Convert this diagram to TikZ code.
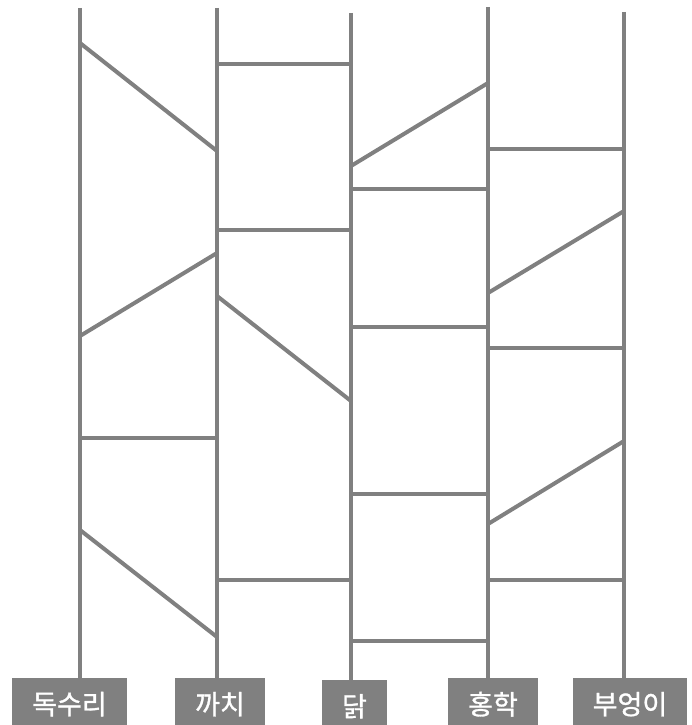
\documentclass[tikz,border=0pt]{standalone}
\usepackage{fontspec}
\usepackage{tikz}
\usetikzlibrary{positioning}
\newfontfamily\krfont[FakeBold=1.2]{Noto Sans CJK KR}
\definecolor{laddergray}{RGB}{128,128,128}

\begin{document}
\begin{tikzpicture}[
    x=1pt, y=-1pt,
    pole/.style={draw=laddergray, line width=4pt},
    rung/.style={draw=laddergray, line width=4pt},
    animal/.style={fill=laddergray, text=white, anchor=north, inner xsep=20pt,
        inner ysep=0pt, minimum height=52pt, font=\krfont\fontsize{27}{27}\selectfont}
]
\useasboundingbox (0,0) rectangle (692,725);

% Labels
\node[animal] (eagle) at (69.5,678) {독수리};
\node[animal] (magpie) at (220,678) {까치};
\node[animal] (hen) at (354.5,680) {닭};
\node[animal] (flamingo) at (493,678) {홍학};
\node[animal] (owl) at (630,678) {부엉이};

% Pole tops
\coordinate (p1) at (80,8);
\coordinate (p2) at (217,8);
\coordinate (p3) at (351,13);
\coordinate (p4) at (488,7);
\coordinate (p5) at (624,12);

% Poles
\draw[pole] (p1) -- (p1 |- eagle.north);
\draw[pole] (p2) -- (p2 |- magpie.north);
\draw[pole] (p3) -- (p3 |- hen.north);
\draw[pole] (p4) -- (p4 |- flamingo.north);
\draw[pole] (p5) -- (p5 |- owl.north);

% Rungs between eagle and magpie
\draw[rung] (p1 |- 0,43) -- (p2 |- 0,151);
\draw[rung] (p1 |- 0,336) -- (p2 |- 0,253);
\draw[rung] (p1 |- 0,438) -- (p2 |- 0,438);
\draw[rung] (p1 |- 0,530) -- (p2 |- 0,637);

% Rungs between magpie and hen
\draw[rung] (p2 |- 0,64) -- (p3 |- 0,64);
\draw[rung] (p2 |- 0,230) -- (p3 |- 0,230);
\draw[rung] (p2 |- 0,296) -- (p3 |- 0,401);
\draw[rung] (p2 |- 0,580) -- (p3 |- 0,580);

% Rungs between hen and flamingo
\draw[rung] (p3 |- 0,166) -- (p4 |- 0,83);
\draw[rung] (p3 |- 0,189) -- (p4 |- 0,189);
\draw[rung] (p3 |- 0,327) -- (p4 |- 0,327);
\draw[rung] (p3 |- 0,494) -- (p4 |- 0,494);
\draw[rung] (p3 |- 0,641) -- (p4 |- 0,641);

% Rungs between flamingo and owl
\draw[rung] (p4 |- 0,149) -- (p5 |- 0,149);
\draw[rung] (p4 |- 0,293) -- (p5 |- 0,211);
\draw[rung] (p4 |- 0,348) -- (p5 |- 0,348);
\draw[rung] (p4 |- 0,524) -- (p5 |- 0,441);
\draw[rung] (p4 |- 0,580) -- (p5 |- 0,580);

\end{tikzpicture}
\end{document}
